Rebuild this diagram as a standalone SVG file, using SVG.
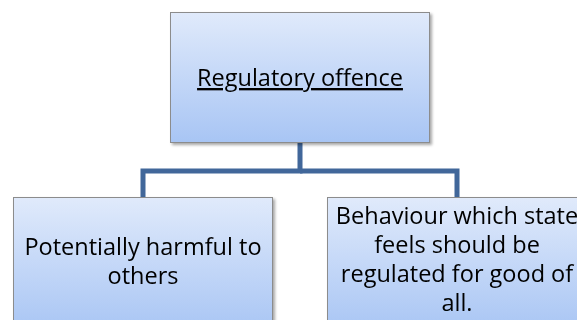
<svg xmlns="http://www.w3.org/2000/svg" width="577" height="320" viewBox="0 0 577 320">
<style>
.box{fill:url(#g);stroke:#8c8c8c;stroke-width:1}
.t{font-family:"Open Sans","Liberation Sans",sans-serif;font-size:23.5px;fill:#000;text-anchor:middle}
.c{fill:none;stroke:#41679a;stroke-width:5}
</style>
<defs>
<linearGradient id="g" x1="0" y1="0" x2="0" y2="1">
<stop offset="0" stop-color="#e0eafb"/>
<stop offset="1" stop-color="#a8c5f4"/>
</linearGradient>
<filter id="sh" x="-10%" y="-10%" width="130%" height="130%">
<feGaussianBlur in="SourceAlpha" stdDeviation="1.5"/>
<feOffset dx="1.5" dy="1.5" result="b"/>
<feComponentTransfer><feFuncA type="linear" slope="0.35"/></feComponentTransfer>
<feMerge><feMergeNode/><feMergeNode in="SourceGraphic"/></feMerge>
</filter>
</defs>
<g id="connectors">
<path class="c" d="M300 142 V171 H143 V197"/>
<path class="c" d="M300 171 H457 V197"/>
</g>
<g id="node-top" filter="url(#sh)">
<rect class="box" x="170.5" y="12.5" width="259" height="130"/>
<text class="t" x="300" y="86" text-decoration="underline">Regulatory offence</text>
</g>
<g id="node-left" filter="url(#sh)">
<rect class="box" x="13.5" y="197.5" width="259" height="135"/>
<text class="t" x="143" y="255">Potentially harmful to</text>
<text class="t" x="143" y="284">others</text>
</g>
<g id="node-right" filter="url(#sh)">
<rect class="box" x="327.5" y="197.5" width="259" height="135"/>
<text class="t" x="457" y="224">Behaviour which state</text>
<text class="t" x="457" y="253">feels should be</text>
<text class="t" x="457" y="282">regulated for good of</text>
<text class="t" x="457" y="311">all.</text>
</g>
</svg>
